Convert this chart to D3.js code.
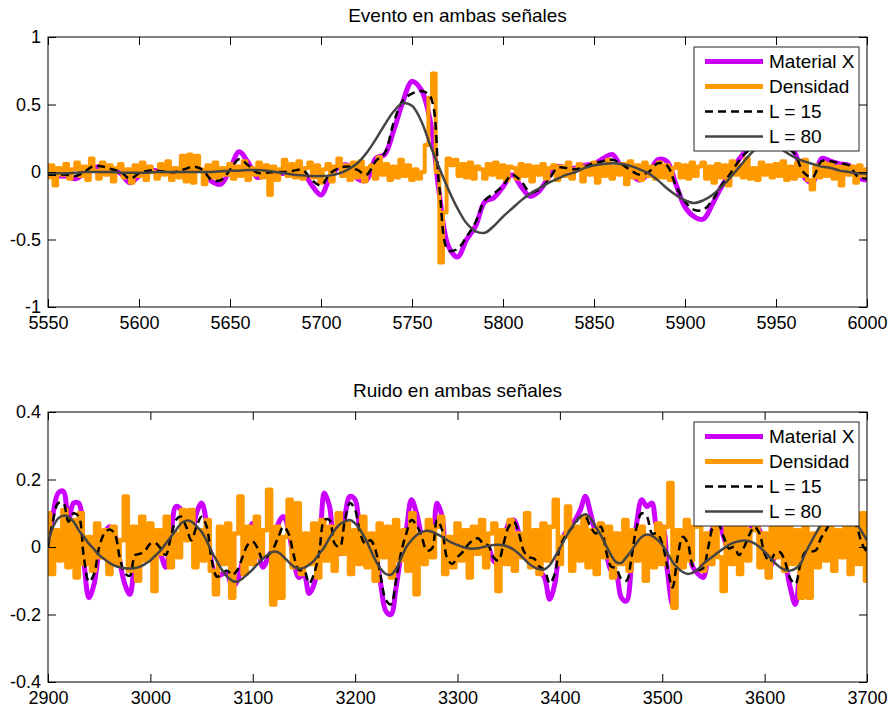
<!DOCTYPE html>
<html>
<head>
<meta charset="utf-8">
<script src="https://cdn.jsdelivr.net/npm/d3@7"></script>
<style>
body { margin: 0; background: #fff; }
svg { font-family: Arial, "Liberation Sans", sans-serif; }
</style>
</head>
<body>
<div id="chart"></div>
<script>
// ---- data: event window (5550..6000) ----
var eventStart = 5550, eventEnd = 6000, eventStep = 5, eventNoiseStep = 2;
var eventTicksX = [5550, 5600, 5650, 5700, 5750, 5800, 5850, 5900, 5950, 6000];
var eventTicksY = [-1, -0.5, 0, 0.5, 1];

var eventMaterial = [
    -0.02, -0.03, -0.03, -0.05, -0.01, 0.03, 0.04, 0.02, -0.01, -0.08,
    -0.03, 0.01, 0.01, 0.0, -0.01, 0.01, 0.03, 0.01, -0.07, -0.09,
    0.02, 0.15, 0.07, -0.04, -0.02, -0.01, -0.01, 0.01, 0.0, -0.1,
    -0.17, -0.04, 0.04, 0.05, -0.05, -0.06, 0.1, 0.13, 0.31, 0.52,
    0.67, 0.61, 0.38, -0.16, -0.55, -0.63, -0.5, -0.4, -0.22, -0.19,
    -0.11, -0.02, -0.11, -0.18, -0.14, -0.04, 0.04, 0.03, 0.03, 0.05,
    0.06, 0.1, 0.13, 0.04, -0.01, -0.06, -0.01, 0.09, 0.08, -0.09,
    -0.26, -0.33, -0.35, -0.24, -0.11, -0.01, 0.1, 0.18, 0.24, 0.26,
    0.23, 0.2, 0.15, -0.03, -0.08, 0.1, 0.08, 0.06, 0.05, -0.04,
    -0.06
];
var eventDensidad = [
    -0.04, 0.05, -0.1, 0.03, -0.02, 0.06, -0.05, 0.02, 0.07, -0.03,
    0.04, -0.06, 0.1, 0.01, -0.05, 0.07, -0.02, 0.05, -0.07, 0.03,
    0.06, -0.04, 0.02, -0.08, 0.05, -0.03, 0.07, -0.06, 0.04, 0.0,
    -0.05, 0.06, -0.02, 0.08, -0.06, 0.03, -0.04, 0.12, -0.07, 0.13,
    -0.08, 0.12, 0.02, -0.09, 0.05, -0.04, 0.07, -0.06, 0.03, -0.02,
    0.06, -0.05, 0.04, -0.03, 0.08, -0.06, 0.03, -0.02, 0.07, -0.04,
    0.05, -0.17, 0.04, -0.06, 0.02, 0.09, -0.03, 0.06, -0.04, 0.08,
    -0.05, 0.03, 0.07, -0.04, 0.05, -0.08, 0.02, 0.06, -0.07, 0.04,
    0.1, -0.03, 0.05, -0.06, 0.07, -0.04, 0.08, -0.07, 0.03, 0.05,
    -0.05, 0.11, -0.02, 0.06, -0.06, 0.04, -0.04, 0.09, -0.03, 0.05,
    -0.06, 0.02, -0.05, 0.0, 0.2, 0.55, 0.73, 0.0, -0.67, -0.3,
    0.1, 0.05, 0.09, -0.03, 0.06, -0.04, 0.07, -0.05, 0.04, 0.02,
    -0.05, 0.06, -0.02, 0.07, -0.04, 0.05, -0.06, 0.04, 0.03, -0.05,
    0.06, -0.03, 0.05, -0.07, 0.04, -0.02, 0.06, -0.05, 0.03, 0.05,
    -0.06, 0.04, -0.03, 0.07, -0.05, 0.02, 0.06, -0.07, 0.04, -0.02,
    0.07, -0.08, 0.05, -0.03, 0.09, -0.05, 0.04, -0.02, 0.06, -0.09,
    0.08, -0.04, 0.05, -0.06, 0.07, -0.03, 0.04, -0.05, 0.07, -0.04,
    0.05, -0.06, 0.03, 0.06, -0.04, 0.05, -0.05, 0.07, -0.03, 0.04,
    0.07, -0.05, 0.04, -0.08, 0.06, -0.04, 0.05, -0.1, 0.08, -0.02,
    0.05, -0.04, 0.1, -0.05, 0.03, -0.06, 0.07, -0.02, 0.05, -0.04,
    0.06, -0.03, 0.08, -0.06, 0.04, -0.05, 0.07, -0.03, 0.09, -0.06,
    -0.13, 0.05, -0.04, 0.07, -0.03, 0.06, -0.05, 0.04, -0.1, 0.05,
    -0.02, 0.04, -0.08, 0.05, -0.03, 0.02
];
var eventL15 = [
    -0.02, -0.02, -0.02, -0.03, 0.0, 0.045, 0.04, 0.02, 0.0, -0.05,
    -0.01, 0.01, 0.01, 0.0, 0.0, 0.02, 0.04, 0.015, -0.06, -0.06,
    0.015, 0.095, 0.05, -0.005, -0.005, 0.0, 0.0, 0.01, 0.015, -0.06,
    -0.1, -0.01, 0.03, 0.04, 0.015, -0.02, 0.08, 0.14, 0.37, 0.53,
    0.58, 0.6, 0.56, -0.11, -0.58, -0.57, -0.48, -0.37, -0.21, -0.16,
    -0.1, -0.02, -0.07, -0.15, -0.13, -0.06, 0.03, 0.03, 0.02, 0.04,
    0.065, 0.08, 0.09, 0.06, 0.015, -0.02, 0.0, 0.065, 0.05, -0.1,
    -0.22, -0.28, -0.28, -0.21, -0.1, -0.01, 0.09, 0.16, 0.2, 0.22,
    0.2, 0.18, 0.14, 0.0, -0.04, 0.08, 0.08, 0.065, 0.05, -0.035,
    -0.05
];
var eventL80 = [
    -0.01, -0.01, -0.01, -0.005, 0.0, 0.0, 0.0, 0.0, -0.005, -0.005,
    -0.005, -0.005, 0.0, 0.0, 0.0, 0.0, 0.0, 0.0, 0.0, 0.005,
    0.01, 0.01, 0.015, 0.015, 0.01, 0.0, -0.01, -0.02, -0.025, -0.03,
    -0.03, -0.025, -0.01, 0.02, 0.065, 0.14, 0.24, 0.35, 0.45, 0.51,
    0.49, 0.38, 0.2, 0.03, -0.13, -0.27, -0.38, -0.44, -0.45, -0.4,
    -0.33, -0.27, -0.21, -0.16, -0.12, -0.08, -0.05, -0.02, 0.0, 0.03,
    0.05, 0.06, 0.065, 0.06, 0.045, 0.02, -0.01, -0.06, -0.12, -0.17,
    -0.21, -0.23, -0.21, -0.17, -0.11, -0.04, 0.04, 0.12, 0.18, 0.2,
    0.19, 0.15, 0.11, 0.08, 0.06, 0.04, 0.03, 0.01, 0.0, -0.01,
    -0.015
];

// ---- data: noise window (2900..3700) ----
var noiseStart = 2900, noiseEnd = 3700, noiseStep = 5, noiseNoiseStep = 4;
var noiseTicksX = [2900, 3000, 3100, 3200, 3300, 3400, 3500, 3600, 3700];
var noiseTicksY = [-0.4, -0.2, 0, 0.2, 0.4];

var noiseMaterial = [
    0.0, 0.1, 0.16, 0.165, 0.08, 0.13, 0.13, -0.04, -0.15, -0.11,
    -0.01, 0.04, 0.06, 0.04, -0.04, -0.11, -0.14, -0.05, -0.02, -0.01,
    0.01, 0.015, -0.02, -0.06, 0.03, 0.12, 0.11, 0.05, 0.03, 0.1,
    0.13, 0.07, -0.05, -0.09, -0.08, -0.08, -0.12, -0.1, -0.04, 0.03,
    0.07, 0.0, -0.06, -0.03, 0.0, 0.07, 0.09, 0.05, -0.04, -0.09,
    -0.08, -0.138, -0.11, -0.02, 0.16, 0.12, 0.0, -0.02, 0.09, 0.15,
    0.14, 0.04, 0.0, 0.02, -0.02, -0.11, -0.19, -0.2, -0.12, -0.02,
    0.05, 0.14, 0.1, 0.03, -0.02, 0.0, 0.13, 0.09, -0.04, -0.055,
    -0.03, -0.02, 0.005, 0.02, 0.03, 0.01, 0.0, -0.04, -0.05, 0.01,
    0.07, 0.08, 0.04, -0.02, -0.04, -0.05, -0.07, -0.09, -0.155, -0.11,
    0.0, 0.04, 0.06, 0.08, 0.11, 0.15, 0.1, 0.05, 0.06, -0.01,
    -0.07, -0.08, -0.15, -0.16, -0.05, 0.07, 0.14, 0.12, 0.13, 0.06,
    0.06, -0.07, -0.17, -0.05, 0.03, 0.0, -0.06, -0.08, -0.09, -0.01,
    0.06, 0.07, 0.03, -0.01, -0.01, -0.04, -0.01, 0.04, 0.07, 0.05,
    -0.03, -0.06, -0.03, -0.02, -0.05, -0.12, -0.17, -0.07, -0.02, -0.02,
    -0.02, 0.03, 0.06, 0.1, 0.12, 0.11, 0.1, 0.09, 0.07, 0.02,
    -0.02
];
var noiseDensidad = [
    0.1, -0.08, 0.05, -0.04, 0.11, -0.06, 0.08, -0.09, 0.1, -0.05,
    0.03, -0.07, 0.07, -0.03, 0.05, -0.08, 0.06, -0.05, 0.02, 0.15,
    -0.07, 0.06, -0.1, 0.09, -0.04, 0.07, -0.13, 0.05, -0.02, 0.09,
    -0.06, 0.04, -0.03, 0.11, 0.02, 0.11, -0.06, 0.05, -0.04, 0.08,
    -0.07, -0.14, 0.06, -0.05, 0.07, -0.15, 0.04, 0.15, -0.08, 0.06,
    -0.05, 0.09, -0.03, 0.05, 0.17, -0.17, 0.06, -0.15, 0.03, 0.14,
    -0.06, 0.13, -0.08, 0.04, -0.05, 0.07, -0.09, 0.08, -0.04, 0.06,
    -0.07, 0.1, -0.02, 0.07, -0.08, 0.05, -0.05, 0.09, -0.06, 0.04,
    -0.1, 0.07, -0.03, 0.06, -0.09, 0.08, -0.04, 0.05, -0.07, 0.1,
    -0.14, 0.04, -0.05, 0.08, -0.03, 0.06, 0.09, -0.08, 0.03, -0.06,
    0.07, -0.04, 0.05, -0.09, 0.06, -0.02, 0.08, -0.06, 0.04, 0.07,
    -0.13, 0.05, -0.05, 0.08, -0.07, 0.04, -0.03, 0.1, -0.06, 0.05,
    -0.08, 0.07, -0.04, 0.06, 0.14, -0.05, 0.03, 0.12, -0.07, 0.06,
    -0.04, 0.09, -0.06, 0.05, -0.08, 0.07, -0.03, 0.06, -0.09, 0.04,
    -0.05, 0.08, -0.07, 0.05, -0.04, 0.06, -0.1, 0.03, -0.06, 0.07,
    -0.05, 0.06, 0.19, -0.18, 0.05, -0.06, 0.08, -0.04, 0.06, 0.1,
    -0.07, 0.04, -0.05, 0.09, -0.03, -0.13, 0.07, -0.05, 0.06, -0.08,
    0.1, -0.04, 0.05, 0.1, -0.06, 0.04, -0.09, 0.07, -0.03, 0.06,
    -0.07, 0.08, -0.05, 0.05, -0.15, 0.06, -0.15, 0.04, -0.06, 0.07,
    -0.04, 0.08, -0.07, 0.05, -0.03, 0.09, -0.08, 0.06, -0.05, 0.1,
    -0.1
];
var noiseL15 = [
    0.0, 0.08, 0.13, 0.13, 0.075, 0.1, 0.09, -0.03, -0.103, -0.08,
    0.0, 0.04, 0.052, 0.04, -0.03, -0.078, -0.085, -0.024, -0.02, -0.01,
    0.01, 0.012, -0.004, -0.024, 0.03, 0.08, 0.09, 0.06, 0.02, 0.06,
    0.09, 0.06, -0.04, -0.088, -0.078, -0.07, -0.083, -0.068, -0.03, 0.006,
    0.016, -0.005, -0.04, -0.025, -0.005, 0.03, 0.06, 0.04, -0.024, -0.068,
    -0.068, -0.108, -0.078, -0.014, 0.08, 0.08, 0.01, 0.0, 0.08, 0.13,
    0.11, 0.04, 0.01, 0.02, -0.01, -0.088, -0.157, -0.17, -0.098, -0.015,
    0.04, 0.08, 0.065, 0.03, -0.01, -0.005, 0.08, 0.05, -0.034, -0.05,
    -0.03, -0.015, 0.006, 0.02, 0.026, 0.01, 0.005, -0.03, -0.04, 0.01,
    0.06, 0.075, 0.04, -0.014, -0.03, -0.035, -0.058, -0.068, -0.108, -0.08,
    0.0, 0.03, 0.05, 0.07, 0.09, 0.09, 0.06, 0.04, 0.06, -0.01,
    -0.058, -0.063, -0.095, -0.1, -0.03, 0.06, 0.1, 0.09, 0.04, 0.04,
    0.01, -0.058, -0.12, -0.03, 0.03, 0.01, -0.058, -0.068, -0.063, 0.0,
    0.06, 0.065, 0.03, -0.004, 0.0, -0.024, 0.0, 0.036, 0.06, 0.04,
    -0.02, -0.044, -0.02, -0.015, -0.044, -0.093, -0.11, -0.05, -0.014, -0.014,
    -0.01, 0.026, 0.05, 0.08, 0.1, 0.095, 0.085, 0.08, 0.06, 0.01,
    -0.014
];
var noiseL80 = [
    0.01, 0.06, 0.085, 0.093, 0.09, 0.075, 0.05, 0.03, 0.01, -0.007,
    -0.024, -0.036, -0.047, -0.055, -0.06, -0.063, -0.064, -0.062, -0.058, -0.05,
    -0.04, -0.025, -0.01, 0.01, 0.03, 0.05, 0.07, 0.078, 0.075, 0.062,
    0.045, 0.018, -0.014, -0.042, -0.068, -0.088, -0.1, -0.103, -0.093, -0.08,
    -0.066, -0.05, -0.034, -0.022, -0.014, -0.016, -0.029, -0.044, -0.058, -0.064,
    -0.062, -0.053, -0.04, -0.02, 0.0, 0.027, 0.05, 0.067, 0.076, 0.08,
    0.07, 0.05, 0.025, -0.008, -0.04, -0.065, -0.08, -0.082, -0.065, -0.033,
    0.0, 0.02, 0.035, 0.044, 0.048, 0.045, 0.038, 0.03, 0.02, 0.012,
    0.006, 0.0, -0.004, -0.005, -0.004, 0.0, 0.003, 0.006, 0.007, 0.005,
    0.0, -0.008, -0.02, -0.035, -0.05, -0.06, -0.066, -0.066, -0.054, -0.03,
    -0.004, 0.025, 0.05, 0.073, 0.09, 0.097, 0.085, 0.06, 0.035, 0.005,
    -0.024, -0.045, -0.047, -0.03, -0.01, 0.012, 0.03, 0.037, 0.033, 0.022,
    0.006, -0.018, -0.044, -0.062, -0.074, -0.08, -0.076, -0.066, -0.05, -0.038,
    -0.027, -0.015, -0.004, 0.006, 0.013, 0.017, 0.019, 0.017, 0.011, 0.0,
    -0.014, -0.03, -0.047, -0.06, -0.068, -0.07, -0.064, -0.05, -0.017, 0.012,
    0.04, 0.065, 0.085, 0.1, 0.105, 0.1, 0.095, 0.085, 0.068, 0.045,
    0.02
];

var legendNames = ["Material X", "Densidad", "L = 15", "L = 80"];
var legendColors = ["#cc00ff", "#ff9900", "#000000", "#444444"];
var legendWidths = [5, 5, 2.5, 2.5];
var legendDash = [null, null, "8,5", null];

SignalPlot = function(_svg, _top, _title, _xDomain, _yDomain, _xTicks, _yTicks, _series) {
    vis = this;

    this.svg = _svg;
    this.title = _title;
    this.xDomain = _xDomain;
    this.yDomain = _yDomain;
    this.xTicks = _xTicks;
    this.yTicks = _yTicks;
    this.series = _series;
    this.margin = { top: _top, left: 48 };
    this.width = 819;
    this.height = 270;
    this.id = "p" + _top;

    this.initVis();
};

SignalPlot.prototype.initVis = function() {
    vis = this;

    vis.g = vis.svg.append("g")
        .attr("transform", "translate(" + vis.margin.left + "," + vis.margin.top + ")");

    vis.x = d3.scaleLinear().domain(vis.xDomain).range([0, vis.width]);
    vis.y = d3.scaleLinear().domain(vis.yDomain).range([vis.height, 0]);

    vis.svg.append("defs").append("clipPath")
        .attr("id", vis.id)
        .append("rect")
        .attr("width", vis.width)
        .attr("height", vis.height);

    vis.drawLines();
    vis.drawAxes();
    vis.drawLegend();

    vis.svg.append("text")
        .attr("x", vis.margin.left + vis.width / 2)
        .attr("y", vis.margin.top - 15)
        .attr("text-anchor", "middle")
        .attr("font-size", "19px")
        .text(vis.title);
};

SignalPlot.prototype.drawLines = function() {
    vis = this;

    var lines = vis.g.append("g").attr("clip-path", "url(#" + vis.id + ")");

    vis.series.forEach(function(s, k) {
        var line = d3.line()
            .x(function(d, i) { return vis.x(vis.xDomain[0] + i * s.step); })
            .y(function(d) { return vis.y(d); })
            .curve(s.curve || d3.curveCatmullRom);

        lines.append("path")
            .datum(s.values)
            .attr("fill", "none")
            .attr("stroke", legendColors[k])
            .attr("stroke-width", s.width || legendWidths[k])
            .attr("stroke-dasharray", legendDash[k])
            .attr("stroke-linejoin", "round")
            .attr("d", line);
    });
};

SignalPlot.prototype.drawAxes = function() {
    vis = this;
    var fmt = function(d) { return String(d); };

    var xBottom = vis.g.append("g")
        .attr("transform", "translate(0," + vis.height + ")")
        .call(d3.axisBottom(vis.x).tickValues(vis.xTicks).tickFormat(fmt)
            .tickSizeInner(-8).tickSizeOuter(0).tickPadding(9));
    var xTop = vis.g.append("g")
        .call(d3.axisTop(vis.x).tickValues(vis.xTicks).tickFormat("")
            .tickSizeInner(-8).tickSizeOuter(0));
    var yLeft = vis.g.append("g")
        .call(d3.axisLeft(vis.y).tickValues(vis.yTicks).tickFormat(fmt)
            .tickSizeInner(-8).tickSizeOuter(0).tickPadding(7));
    var yRight = vis.g.append("g")
        .attr("transform", "translate(" + vis.width + ",0)")
        .call(d3.axisRight(vis.y).tickValues(vis.yTicks).tickFormat("")
            .tickSizeInner(-8).tickSizeOuter(0));

    [xBottom, xTop, yLeft, yRight].forEach(function(a) {
        a.select(".domain").remove();
        a.selectAll("line").attr("stroke", "#000");
        a.selectAll("text").attr("fill", "#000").attr("font-size", "18px")
            .attr("font-family", "Arial, 'Liberation Sans', sans-serif");
    });

    vis.g.append("rect")
        .attr("width", vis.width)
        .attr("height", vis.height)
        .attr("fill", "none")
        .attr("stroke", "#000")
        .attr("stroke-width", 1);
};

SignalPlot.prototype.drawLegend = function() {
    vis = this;

    var leg = vis.g.append("g")
        .attr("transform", "translate(" + (vis.width - 173) + ",10)");

    leg.append("rect")
        .attr("width", 165)
        .attr("height", 104)
        .attr("fill", "#fff")
        .attr("stroke", "#262626")
        .attr("stroke-width", 1);

    legendNames.forEach(function(name, k) {
        var cy = 14.5 + k * 25;
        leg.append("line")
            .attr("x1", 11).attr("x2", 69)
            .attr("y1", cy).attr("y2", cy)
            .attr("stroke", legendColors[k])
            .attr("stroke-width", legendWidths[k])
            .attr("stroke-dasharray", legendDash[k]);
        leg.append("text")
            .attr("x", 75)
            .attr("y", cy)
            .attr("dy", "0.35em")
            .attr("font-size", "19px")
            .attr("fill", "#000")
            .text(name);
    });
};

var svg = d3.select("#chart").append("svg")
    .attr("width", 891)
    .attr("height", 709);

var eventPlot = new SignalPlot(svg, 37, "Evento en ambas señales",
    [eventStart, eventEnd], [-1, 1], eventTicksX, eventTicksY, [
        { values: eventMaterial, step: eventStep },
        { values: eventDensidad, step: eventNoiseStep, curve: d3.curveStep, width: 4 },
        { values: eventL15, step: eventStep },
        { values: eventL80, step: eventStep }
    ]);

var noisePlot = new SignalPlot(svg, 412, "Ruido en ambas señales",
    [noiseStart, noiseEnd], [-0.4, 0.4], noiseTicksX, noiseTicksY, [
        { values: noiseMaterial, step: noiseStep },
        { values: noiseDensidad, step: noiseNoiseStep, curve: d3.curveStep, width: 4.5 },
        { values: noiseL15, step: noiseStep },
        { values: noiseL80, step: noiseStep }
    ]);
</script>
</body>
</html>
